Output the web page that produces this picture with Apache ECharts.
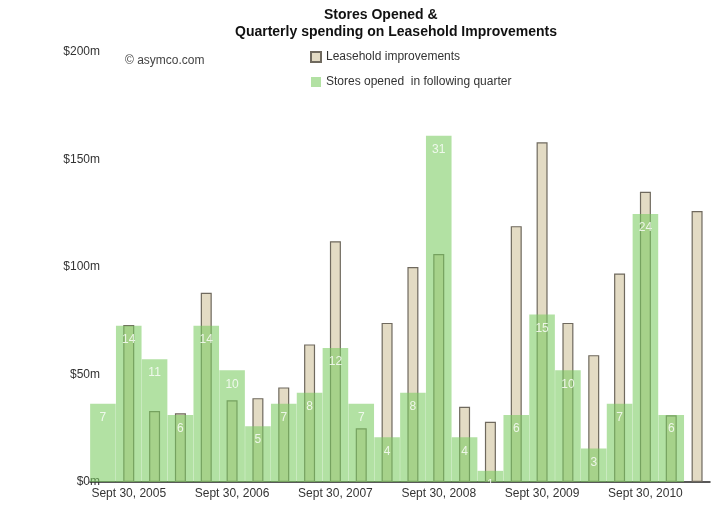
<!DOCTYPE html>
<html>
<head>
<meta charset="utf-8">
<script src="https://cdn.jsdelivr.net/npm/echarts@6/dist/echarts.min.js"></script>
<style>
  html, body { margin: 0; padding: 0; background: #fff; }
  #chart { width: 720px; height: 515px; }
</style>
</head>
<body>
<div id="chart"></div>
<script>
// quarter ends, June 2005 .. March 2011
var quarters = [
  'Jun 30, 2005', 'Sept 30, 2005', 'Dec 31, 2005', 'Mar 31, 2006',
  'Jun 30, 2006', 'Sept 30, 2006', 'Dec 31, 2006', 'Mar 31, 2007',
  'Jun 30, 2007', 'Sept 30, 2007', 'Dec 31, 2007', 'Mar 31, 2008',
  'Jun 30, 2008', 'Sept 30, 2008', 'Dec 31, 2008', 'Mar 31, 2009',
  'Jun 30, 2009', 'Sept 30, 2009', 'Dec 31, 2009', 'Mar 31, 2010',
  'Jun 30, 2010', 'Sept 30, 2010', 'Dec 31, 2010', 'Mar 31, 2011'
];
// $m spent on leasehold improvements
var leasehold = [null, 73, 33, 32, 88, 38, 39, 44, 64, 112, 25, 74,
                 100, 106, 35, 28, 119, 158, 74, 59, 97, 135, 31, 126];
// stores opened in the following quarter
var storesOpened = [7, 14, 11, 6, 14, 10, 5, 7, 8, 12, 7, 4,
                    8, 31, 4, 1, 6, 15, 10, 3, 7, 24, 6, null];
var moneyTicks = [0, 50, 100, 150, 200];

var chart = echarts.init(document.getElementById('chart'));

var FONT = 'Liberation Sans, Arial, Helvetica, sans-serif';

chart.setOption({
  animation: false,
  textStyle: { fontFamily: FONT },
  graphic: [
    { type: 'text', left: 324, top: 8,
      style: { text: 'Stores Opened &', font: 'bold 14px ' + FONT, fill: '#111' } },
    { type: 'text', left: 235, top: 25,
      style: { text: 'Quarterly spending on Leasehold Improvements', font: 'bold 14px ' + FONT, fill: '#111' } },
    { type: 'text', left: 125, top: 55,
      style: { text: '\u00a9 asymco.com', font: '12px ' + FONT, fill: '#444' } }
  ],
  legend: {
    orient: 'vertical',
    left: 305,
    top: 46,
    itemWidth: 10,
    itemHeight: 10,
    itemGap: 13,
    icon: 'rect',
    data: ['Leasehold improvements', 'Stores opened  in following quarter'],
    textStyle: { fontSize: 12, color: '#333', fontFamily: FONT }
  },
  grid: { left: 90, right: 10, top: 52, bottom: 33 },
  xAxis: [{
    type: 'category',
    data: quarters,
    axisTick: { show: false },
    axisLine: { lineStyle: { color: '#222', width: 1.5 } },
    axisLabel: {
      interval: function (i) { return i % 4 === 1; },
      color: '#333', fontSize: 12, margin: 6
    }
  }, {
    type: 'category',
    data: quarters,
    show: false
  }],
  yAxis: [{
    type: 'value',
    min: moneyTicks[0],
    max: moneyTicks[moneyTicks.length - 1],
    interval: 50,
    axisLine: { show: false },
    axisTick: { show: false },
    splitLine: { show: false },
    axisLabel: {
      color: '#333', fontSize: 12, margin: -10,
      formatter: function (v) { return '$' + v + 'm'; }
    }
  }, {
    // stores scaled so one store is about $5.2m on the left axis
    type: 'value',
    min: 0,
    max: 38.5,
    show: false
  }],
  series: [{
    name: 'Leasehold improvements',
    type: 'bar',
    xAxisIndex: 1,
    yAxisIndex: 0,
    data: leasehold,
    barWidth: 11,
    itemStyle: { color: '#e3dbc4', borderColor: '#6f695e', borderWidth: 1.2 },
    z: 2
  }, {
    name: 'Stores opened  in following quarter',
    type: 'bar',
    xAxisIndex: 0,
    yAxisIndex: 1,
    data: storesOpened,
    barCategoryGap: '1%',
    itemStyle: { color: 'rgba(122,204,96,0.58)' },
    label: {
      show: true,
      position: 'insideTop',
      distance: 8,
      fontSize: 12,
      color: 'rgba(255,255,255,0.8)'
    },
    z: 3
  }]
});
</script>
</body>
</html>
